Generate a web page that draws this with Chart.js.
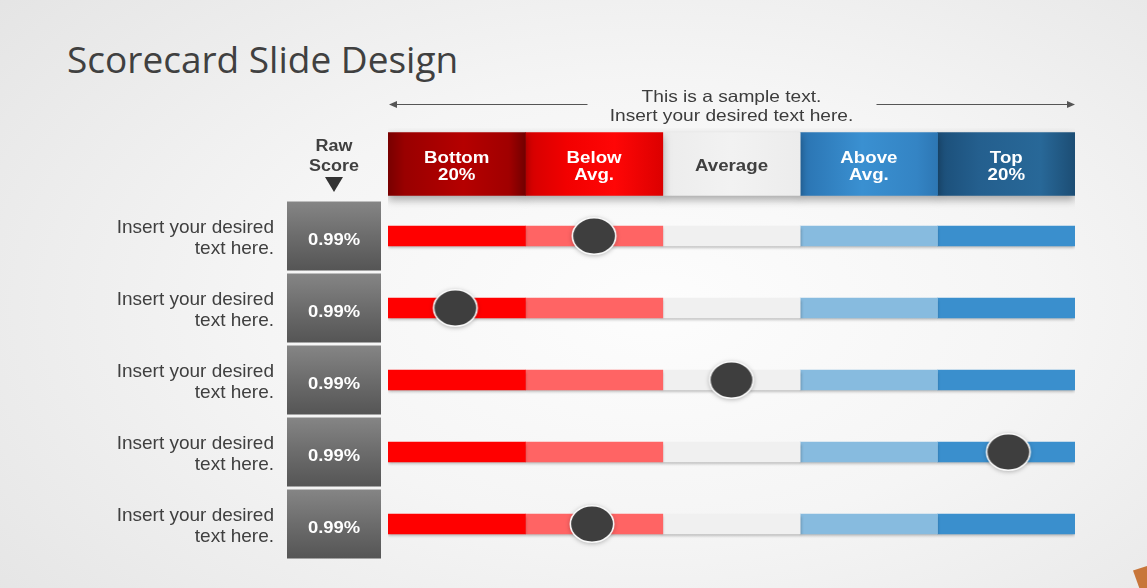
<!DOCTYPE html>
<html>
<head>
<meta charset="utf-8">
<title>Scorecard Slide Design</title>
<script src="https://cdn.jsdelivr.net/npm/chart.js@4.4.1/dist/chart.umd.min.js"></script>
<style>
  html, body { margin: 0; padding: 0; }
  body {
    width: 1147px; height: 588px; overflow: hidden; position: relative;
    background: radial-gradient(ellipse 75% 85% at 57% 52%, #fdfdfd 0%, #f5f5f5 45%, #e4e4e4 100%);
  }
  h1 {
    position: absolute; left: 67px; top: 40px; margin: 0;
    font: 400 37px/1 'Open Sans', sans-serif; color: #404040;
  }
  #scorecard { position: absolute; left: 0; top: 0; }
  .corner {
    position: absolute; right: 0; bottom: 0; width: 14px; height: 22px;
    background: #c8763a;
    clip-path: polygon(0 20%, 100% 0, 100% 100%, 45% 100%);
  }
</style>
</head>
<body>
<h1>Scorecard Slide Design</h1>
<canvas id="scorecard" width="1147" height="588"></canvas>
<div class="corner"></div>
<script>
// --- data ---
const bands = [['Bottom', '20%'], ['Below', 'Avg.'], ['Average'], ['Above', 'Avg.'], ['Top', '20%']];
const bandSizes = [20, 20, 20, 20, 20];
const rowLabels = [
  ['Insert your desired', 'text here.'],
  ['Insert your desired', 'text here.'],
  ['Insert your desired', 'text here.'],
  ['Insert your desired', 'text here.'],
  ['Insert your desired', 'text here.']
];
const rawScores = ['0.99%', '0.99%', '0.99%', '0.99%', '0.99%'];
const markerValues = [30, 9.8, 50, 90.3, 29.7];
const topNote = ['This is a sample text.', 'Insert your desired text here.'];

// --- styling ---
const FONT = "'Liberation Sans', Arial, sans-serif";
const TEXT = '#404040';
const rowColors = ['#ff0000', '#ff6464', '#f0f0f0', '#87bbdf', '#3a8fcd'];
const headerStops = [
  [[0, '#780000'], [0.12, '#990000'], [0.55, '#b50000'], [0.88, '#a00000'], [1, '#720000']],
  [[0, '#d20000'], [0.3, '#f20000'], [0.65, '#ff0606'], [1, '#dc0000']],
  [[0, '#ececec'], [0.5, '#f2f2f2'], [1, '#ececec']],
  [[0, '#2a73b1'], [0.45, '#3a90d1'], [0.85, '#3484c4'], [1, '#2d77b4']],
  [[0, '#1b4e78'], [0.3, '#245f8e'], [0.75, '#286898'], [1, '#1c4d74']]
];
const headerText = ['#ffffff', '#ffffff', TEXT, '#ffffff', '#ffffff'];

// category ids: first one is the header strip, then one per row
const rowIds = rowLabels.map((_, i) => 'r' + (i + 1));
const categories = ['head'].concat(rowIds);

// start/end of each band on the 0..100 scale
const bounds = [];
let acc = 0;
bandSizes.forEach(s => { bounds.push([acc, acc + s]); acc += s; });

function headerFill(c, k) {
  const chart = c.chart;
  if (!chart.chartArea) return headerStops[k][1][1];
  const xs = chart.scales.x;
  const g = chart.ctx.createLinearGradient(xs.getPixelForValue(bounds[k][0]), 0, xs.getPixelForValue(bounds[k][1]), 0);
  headerStops[k].forEach(([o, col]) => g.addColorStop(o, col));
  return g;
}

// the round marker, a little wider than tall like the slide
function makeDot() {
  const c = document.createElement('canvas');
  c.width = 48; c.height = 42;
  const g = c.getContext('2d');
  g.beginPath();
  g.ellipse(24, 21, 21.7, 18.3, 0, 0, Math.PI * 2);
  g.fillStyle = '#3e3e3e';
  g.fill();
  g.lineWidth = 1.6;
  g.strokeStyle = '#fafafa';
  g.stroke();
  return c;
}

const datasets = [];
datasets.push({
  type: 'scatter',
  data: markerValues.map((v, i) => ({ x: v, y: rowIds[i] })),
  pointStyle: makeDot(),
  pointRadius: 22,
  order: 0,
  shadow: { color: 'rgba(0,0,0,0.25)', blur: 4, y: 1 }
});
bands.forEach((b, k) => {
  datasets.push({
    type: 'bar',
    indexAxis: 'y',
    grouped: false,
    data: categories.map(id => id === 'head' ? bounds[k] : null),
    backgroundColor: c => headerFill(c, k),
    barThickness: 63,
    borderWidth: 0,
    order: 2,
    shadow: { color: 'rgba(0,0,0,0.32)', blur: 8, y: 4 }
  });
  datasets.push({
    type: 'bar',
    indexAxis: 'y',
    grouped: false,
    data: categories.map(id => id === 'head' ? null : bounds[k]),
    backgroundColor: rowColors[k],
    barThickness: 20,
    borderWidth: 0,
    order: 1,
    shadow: { color: 'rgba(0,0,0,0.3)', blur: 3, y: 2 }
  });
});

function stretchText(ctx, text, x, y, sx) {
  ctx.save();
  ctx.translate(x, y);
  ctx.scale(sx, 1);
  ctx.fillText(text, 0, 0);
  ctx.restore();
}

function arrow(ctx, x0, x1, y) {
  const dir = Math.sign(x1 - x0);
  ctx.beginPath();
  ctx.moveTo(x0, y);
  ctx.lineTo(x1 - dir * 7, y);
  ctx.stroke();
  ctx.beginPath();
  ctx.moveTo(x1, y);
  ctx.lineTo(x1 - dir * 8, y - 3.5);
  ctx.lineTo(x1 - dir * 8, y + 3.5);
  ctx.closePath();
  ctx.fill();
}

const scorecardDecor = {
  id: 'scorecardDecor',
  beforeDatasetDraw(chart, args) {
    const sh = chart.data.datasets[args.index].shadow;
    if (!sh) return;
    const ctx = chart.ctx;
    ctx.save();
    ctx.shadowColor = sh.color;
    ctx.shadowBlur = sh.blur;
    ctx.shadowOffsetY = sh.y;
  },
  afterDatasetDraw(chart, args) {
    if (chart.data.datasets[args.index].shadow) chart.ctx.restore();
  },
  beforeDatasetsDraw(chart) {
    const { ctx, chartArea, scales: { y } } = chart;
    const boxL = 287, boxR = 381, boxX = (boxL + boxR) / 2;
    ctx.save();

    // raw score boxes
    rawScores.forEach((s, i) => {
      const yc = y.getPixelForValue(i + 1);
      const g = ctx.createLinearGradient(0, yc - 34.5, 0, yc + 34.5);
      g.addColorStop(0, '#858585');
      g.addColorStop(0.5, '#6c6c6c');
      g.addColorStop(1, '#555555');
      ctx.fillStyle = g;
      ctx.fillRect(boxL, yc - 34.5, boxR - boxL, 69);
      ctx.fillStyle = '#ffffff';
      ctx.font = 'bold 16px ' + FONT;
      ctx.textAlign = 'center';
      ctx.textBaseline = 'alphabetic';
      stretchText(ctx, s, boxX, yc + 8.5, 1.15);
    });

    // "Raw Score" heading with the down triangle
    const hc = y.getPixelForValue(0);
    ctx.fillStyle = TEXT;
    ctx.font = 'bold 16px ' + FONT;
    stretchText(ctx, 'Raw', boxX, hc - 13, 1.12);
    stretchText(ctx, 'Score', boxX, hc + 6.5, 1.12);
    ctx.fillStyle = '#333333';
    ctx.beginPath();
    ctx.moveTo(boxX - 9, hc + 13);
    ctx.lineTo(boxX + 9, hc + 13);
    ctx.lineTo(boxX, hc + 28);
    ctx.closePath();
    ctx.fill();

    // note above the header with arrows to both sides
    const mid = (chartArea.left + chartArea.right) / 2;
    ctx.strokeStyle = '#555555';
    ctx.fillStyle = '#555555';
    ctx.lineWidth = 1.2;
    arrow(ctx, mid - 144, chartArea.left + 1, 104.5);
    arrow(ctx, mid + 145, chartArea.right, 104.5);
    ctx.fillStyle = '#3c3c3c';
    ctx.font = '16.5px ' + FONT;
    stretchText(ctx, topNote[0], mid, 102, 1.16);
    stretchText(ctx, topNote[1], mid, 121, 1.16);
    ctx.restore();
  },
  afterDatasetsDraw(chart) {
    const ctx = chart.ctx;
    ctx.save();
    ctx.textAlign = 'center';
    ctx.textBaseline = 'alphabetic';
    ctx.font = 'bold 17px ' + FONT;
    chart.data.datasets.forEach((ds, di) => {
      if (ds.barThickness !== 63) return;
      const k = (di - 1) / 2;
      const el = chart.getDatasetMeta(di).data[0];
      const cx = (el.x + el.base) / 2;
      const lines = bands[k];
      ctx.fillStyle = headerText[k];
      if (lines.length === 1) {
        stretchText(ctx, lines[0], cx, el.y + 7, 1.1);
      } else {
        stretchText(ctx, lines[0], cx, el.y - 1, 1.1);
        stretchText(ctx, lines[1], cx, el.y + 15.5, 1.1);
      }
    });
    ctx.restore();
  }
};

new Chart(document.getElementById('scorecard'), {
  type: 'bar',
  data: { labels: categories, datasets },
  plugins: [scorecardDecor],
  options: {
    responsive: false,
    animation: false,
    events: [],
    layout: { padding: { top: 128, right: 72, bottom: 28, left: 0 } },
    plugins: { legend: { display: false }, tooltip: { enabled: false } },
    scales: {
      x: { type: 'linear', min: 0, max: 100, offset: false, display: false, grid: { offset: false } },
      y: {
        type: 'category',
        offset: true,
        // invisible tick marks push the labels left of the score boxes
        grid: { display: true, drawOnChartArea: false, drawTicks: true, tickLength: 114, color: 'rgba(0,0,0,0)' },
        border: { display: false },
        afterFit: s => { s.width = 388; },
        ticks: {
          padding: 0,
          labelOffset: 2.5,
          color: TEXT,
          font: { family: FONT, size: 19, lineHeight: 1.105 },
          callback: (v, i) => i === 0 ? '' : rowLabels[i - 1]
        }
      }
    }
  }
});
</script>
</body>
</html>
